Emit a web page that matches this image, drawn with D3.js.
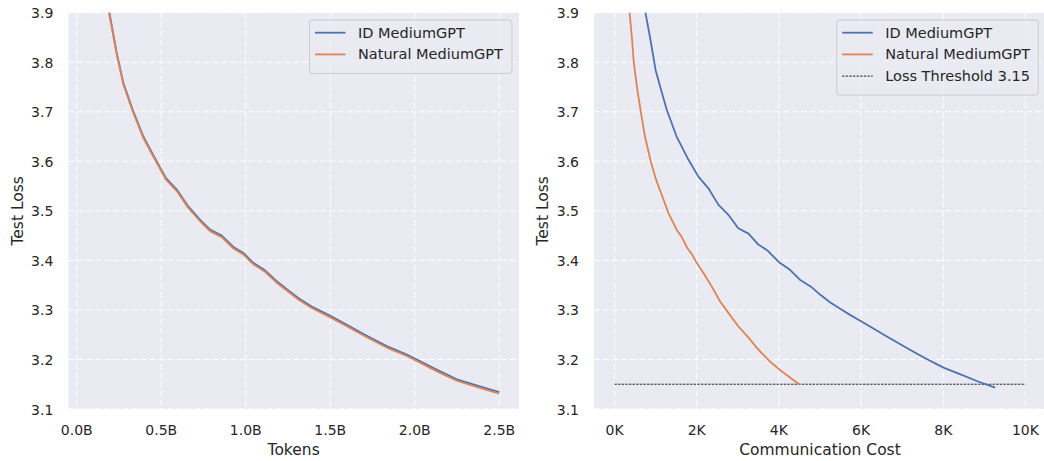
<!DOCTYPE html>
<html>
<head>
<meta charset="utf-8">
<script src="https://cdnjs.cloudflare.com/ajax/libs/d3/7.8.5/d3.min.js"></script>
<style>
  body { margin: 0; background: #fff; }
  text { font-family: "DejaVu Sans", sans-serif; fill: #262626; }
</style>
</head>
<body>
<div id="chart"></div>
<script>
// Left panel: test loss vs tokens (billions)
var tokens = [0.188, 0.237, 0.276, 0.331, 0.394, 0.473, 0.528, 0.592, 0.660, 0.730, 0.789, 0.858, 0.927, 0.986, 1.045, 1.114, 1.183, 1.262, 1.311, 1.390, 1.495, 1.598, 1.716, 1.834, 1.953, 2.012, 2.091, 2.150, 2.249, 2.370, 2.500];
var idLossTokens = [3.910, 3.818, 3.758, 3.704, 3.650, 3.600, 3.566, 3.543, 3.509, 3.482, 3.462, 3.450, 3.427, 3.415, 3.395, 3.380, 3.358, 3.337, 3.324, 3.307, 3.289, 3.270, 3.248, 3.227, 3.210, 3.200, 3.186, 3.176, 3.160, 3.147, 3.134];
var naturalLossTokens = [3.905, 3.815, 3.755, 3.701, 3.647, 3.597, 3.563, 3.540, 3.506, 3.479, 3.459, 3.447, 3.424, 3.412, 3.392, 3.377, 3.355, 3.334, 3.321, 3.304, 3.286, 3.267, 3.245, 3.224, 3.207, 3.197, 3.183, 3.173, 3.157, 3.144, 3.131];

// Right panel: test loss vs communication cost
var idCost = [740, 860, 1000, 1110, 1270, 1510, 1800, 2040, 2280, 2530, 2770, 3010, 3260, 3500, 3720, 4020, 4270, 4510, 4780, 5000, 5250, 5500, 5750, 6000, 6350, 6700, 7050, 7350, 7620, 7850, 8020, 8420, 8830, 9260];
var idLossCost = [3.905, 3.852, 3.784, 3.751, 3.704, 3.650, 3.603, 3.569, 3.546, 3.512, 3.492, 3.465, 3.454, 3.432, 3.420, 3.395, 3.381, 3.361, 3.347, 3.331, 3.315, 3.302, 3.289, 3.277, 3.260, 3.243, 3.226, 3.212, 3.200, 3.190, 3.183, 3.170, 3.156, 3.143];
var naturalCost = [360, 420, 470, 555, 640, 740, 880, 1010, 1150, 1310, 1510, 1630, 1770, 1880, 2000, 2160, 2360, 2570, 2770, 3010, 3260, 3500, 3780, 4070, 4310, 4510];
var naturalLossCost = [3.905, 3.852, 3.798, 3.744, 3.700, 3.650, 3.600, 3.563, 3.532, 3.496, 3.462, 3.448, 3.425, 3.413, 3.395, 3.375, 3.348, 3.317, 3.294, 3.267, 3.244, 3.220, 3.196, 3.176, 3.161, 3.149];

var lossThreshold = 3.15;
var thresholdRange = [0, 10000];

var yTicks = [3.1, 3.2, 3.3, 3.4, 3.5, 3.6, 3.7, 3.8, 3.9];
var tokenTicks = [0, 0.5, 1.0, 1.5, 2.0, 2.5];
var costTicks = [0, 2000, 4000, 6000, 8000, 10000];

var seriesNames = ["ID MediumGPT", "Natural MediumGPT"];
var colors = ["#4C72B0", "#DD8452"];

var width = 1044, height = 461;
var plotTop = 12.7, plotBottom = 409;

var svg = d3.select("#chart").append("svg")
  .attr("width", width)
  .attr("height", height);

svg.append("rect").attr("width", width).attr("height", height).attr("fill", "#fff");

function zip(xs, ys) {
  return xs.map(function(x, i) { return [x, ys[i]]; });
}

function drawPanel(cfg) {
  var x = d3.scaleLinear().domain(cfg.xDomain).range([cfg.left, cfg.right]);
  var y = d3.scaleLinear().domain([3.1, 3.9]).range([plotBottom, plotTop]);

  var g = svg.append("g");

  g.append("rect")
    .attr("x", cfg.left).attr("y", plotTop)
    .attr("width", cfg.right - cfg.left).attr("height", plotBottom - plotTop)
    .attr("fill", "#EAEAF2");

  var clipId = "clip-" + cfg.id;
  svg.append("clipPath").attr("id", clipId)
    .append("rect")
    .attr("x", cfg.left).attr("y", plotTop)
    .attr("width", cfg.right - cfg.left).attr("height", plotBottom - plotTop);

  // grid lines
  g.selectAll(".vgrid").data(cfg.xTicks).enter().append("line")
    .attr("x1", function(d) { return x(d); }).attr("x2", function(d) { return x(d); })
    .attr("y1", plotTop).attr("y2", plotBottom)
    .attr("stroke", "#fff").attr("stroke-width", 1).attr("stroke-dasharray", "6,3");
  g.selectAll(".hgrid").data(yTicks).enter().append("line")
    .attr("x1", cfg.left).attr("x2", cfg.right)
    .attr("y1", function(d) { return y(d); }).attr("y2", function(d) { return y(d); })
    .attr("stroke", "#fff").attr("stroke-width", 1).attr("stroke-dasharray", "6,3");

  // tick labels
  g.selectAll(".xtick").data(cfg.xTicks).enter().append("text")
    .attr("x", function(d) { return x(d); })
    .attr("y", 434.5)
    .attr("text-anchor", "middle")
    .attr("font-size", 14)
    .text(cfg.xFormat);
  g.selectAll(".ytick").data(yTicks).enter().append("text")
    .attr("x", cfg.left - 15)
    .attr("y", function(d) { return y(d) + 5.5; })
    .attr("text-anchor", "end")
    .attr("font-size", 14)
    .text(d3.format(".1f"));

  // axis titles
  g.append("text")
    .attr("x", (cfg.left + cfg.right) / 2)
    .attr("y", 455)
    .attr("text-anchor", "middle")
    .attr("font-size", 15.5)
    .text(cfg.xLabel);
  g.append("text")
    .attr("transform", "translate(" + cfg.yLabelX + "," + ((plotTop + plotBottom) / 2) + ")rotate(-90)")
    .attr("text-anchor", "middle")
    .attr("font-size", 15.5)
    .text("Test Loss");

  var line = d3.line()
    .x(function(d) { return x(d[0]); })
    .y(function(d) { return y(d[1]); });

  var plot = g.append("g").attr("clip-path", "url(#" + clipId + ")");

  if (cfg.threshold) {
    plot.append("path")
      .datum([[thresholdRange[0], lossThreshold], [thresholdRange[1], lossThreshold]])
      .attr("d", line)
      .attr("fill", "none")
      .attr("stroke", "#111")
      .attr("stroke-width", 0.9)
      .attr("stroke-dasharray", "2.4,1.2");
  }

  cfg.series.forEach(function(s, i) {
    plot.append("path")
      .datum(s)
      .attr("d", line)
      .attr("fill", "none")
      .attr("stroke", colors[i])
      .attr("stroke-width", 1.8)
      .attr("stroke-linejoin", "round");
  });

  // legend
  var names = seriesNames.slice();
  if (cfg.threshold) names.push("Loss Threshold 3.15");
  var lg = g.append("g");
  lg.append("rect")
    .attr("x", cfg.legendX).attr("y", 20)
    .attr("width", cfg.legendW).attr("height", 10 + names.length * 21.7)
    .attr("rx", 3)
    .attr("fill", "#EAEAF2").attr("fill-opacity", 0.8)
    .attr("stroke", "#cccccc").attr("stroke-width", 1);
  names.forEach(function(n, i) {
    var cy = 32.7 + i * 21.7;
    var ln = lg.append("line")
      .attr("x1", cfg.legendX + 5.5).attr("x2", cfg.legendX + 36)
      .attr("y1", cy).attr("y2", cy);
    if (i < 2) {
      ln.attr("stroke", colors[i]).attr("stroke-width", 1.8);
    } else {
      ln.attr("stroke", "#111").attr("stroke-width", 0.9).attr("stroke-dasharray", "2.4,1.2");
    }
    lg.append("text")
      .attr("x", cfg.legendX + 48.5)
      .attr("y", cy + 5)
      .attr("font-size", 14.5)
      .text(n);
  });
}

drawPanel({
  id: "tokens",
  left: 68.3, right: 519,
  xDomain: [-0.05, 2.617],
  xTicks: tokenTicks,
  xFormat: function(d) { return d3.format(".1f")(d) + "B"; },
  xLabel: "Tokens",
  yLabelX: 23,
  legendX: 309.5, legendW: 202.5,
  threshold: false,
  series: [zip(tokens, idLossTokens), zip(tokens, naturalLossTokens)]
});

drawPanel({
  id: "cost",
  left: 594, right: 1046,
  xDomain: [-500, 10500],
  xTicks: costTicks,
  xFormat: function(d) { return (d / 1000) + "K"; },
  xLabel: "Communication Cost",
  yLabelX: 548,
  legendX: 836.7, legendW: 201.6,
  threshold: true,
  series: [zip(idCost, idLossCost), zip(naturalCost, naturalLossCost)]
});
</script>
</body>
</html>
